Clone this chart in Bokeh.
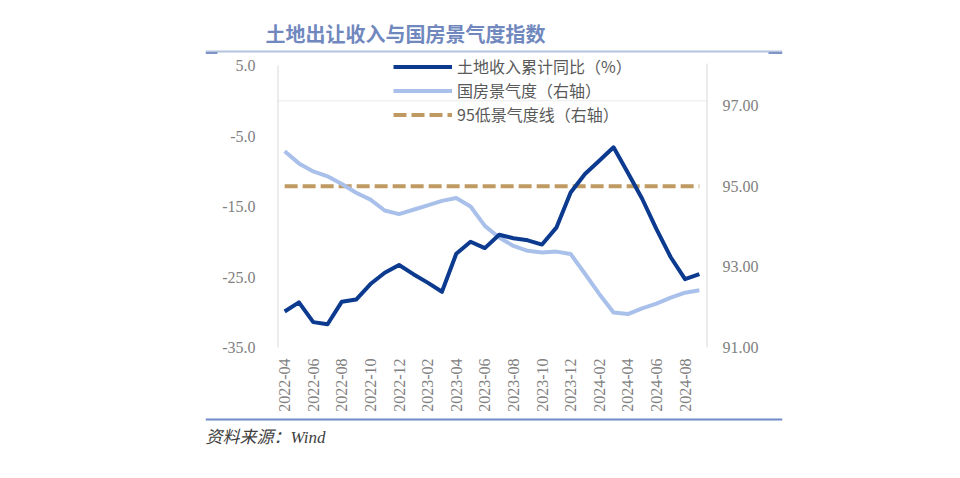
from bokeh.plotting import figure
from bokeh.models import (Range1d, LinearAxis, FixedTicker, PrintfTickFormatter,
                          Legend, LegendItem, Label, BoxAnnotation)
from bokeh.embed import file_html
from bokeh.resources import INLINE
from math import pi

months = ["2022-04", "2022-05", "2022-06", "2022-07", "2022-08", "2022-09", "2022-10",
          "2022-11", "2022-12", "2023-01", "2023-02", "2023-03", "2023-04", "2023-05",
          "2023-06", "2023-07", "2023-08", "2023-09", "2023-10", "2023-11", "2023-12",
          "2024-01", "2024-02", "2024-03", "2024-04", "2024-05", "2024-06", "2024-07",
          "2024-08", "2024-09"]

land_yoy = [-29.9, -28.6, -31.4, -31.7, -28.5, -28.2, -26.0, -24.4, -23.3, -24.6,
            -25.8, -27.1, -21.7, -20.0, -20.9, -19.0, -19.5, -19.8, -20.4, -18.0,
            -13.0, -10.4, -8.5, -6.6, -10.2, -13.9, -18.2, -22.2, -25.3, -24.6]

climate = [95.87, 95.57, 95.37, 95.25, 95.06, 94.84, 94.67, 94.40, 94.31, 94.42,
           94.53, 94.64, 94.71, 94.50, 94.02, 93.73, 93.52, 93.40, 93.36, 93.38,
           93.32, 92.83, 92.33, 91.87, 91.83, 91.97, 92.09, 92.24, 92.36, 92.42]

low_line = [95.0, 95.0, 95.0, 95.0, 95.0, 95.0, 95.0, 95.0, 95.0, 95.0,
            95.0, 95.0, 95.0, 95.0, 95.0, 95.0, 95.0, 95.0, 95.0, 95.0,
            95.0, 95.0, 95.0, 95.0, 95.0, 95.0, 95.0, 95.0, 95.0, 95.0]

left_ticks = [-35, -25, -15, -5, 5]
right_ticks = [91, 93, 95, 97]
left_min, left_max = -35, 5
right_min, right_max = 91, 98

title_text = "土地出让收入与国房景气度指数"
source_text = "资料来源：Wind"
legend_labels = ["土地收入累计同比（%）", "国房景气度（右轴）", "95低景气度线（右轴）"]

DARK = "#0B3A8F"
LIGHT = "#A9C1EA"
TAN = "#BF9B63"
TICK_FONT = "Liberation Serif"
CJK = "Noto Sans CJK SC"

# Outer frame spans the whole panel (rules, title and source are drawn inside it);
# the plotting area proper is 429 x 282 px, starting 72 px right / 47 px below its corner.
FW, FH = 577, 432
PL, PT, PW, PH = 72, 47, 429, 282
n = len(months)
xs = list(range(n))
unit_x = PW / n
x_start = -0.5 - PL / unit_x
x_end = (n - 0.5) + (FW - PL - PW) / unit_x
ly = PH / (left_max - left_min)
ry = PH / (right_max - right_min)
bottom_extra = FH - PT - PH

p = figure(x_range=Range1d(x_start, x_end),
           y_range=Range1d(left_min - bottom_extra / ly, left_max + PT / ly),
           frame_width=FW, frame_height=FH,
           min_border_left=205, min_border_right=162, min_border_top=18, min_border_bottom=12,
           output_backend="svg", toolbar_location=None, outline_line_color=None,
           background_fill_color="white", border_fill_color="white")
p.extra_y_ranges = {"right": Range1d(right_min - bottom_extra / ry, right_max + PT / ry)}

p.xgrid.visible = False
p.ygrid.visible = False


def style_axis(ax, standoff):
    ax.axis_line_color = None
    ax.major_tick_line_color = None
    ax.minor_tick_line_color = None
    ax.major_tick_in = 0
    ax.major_tick_out = 0
    ax.minor_tick_in = 0
    ax.minor_tick_out = 0
    ax.major_label_text_font = TICK_FONT
    ax.major_label_text_font_size = "16px"
    ax.major_label_text_color = "#808080"
    ax.major_label_standoff = standoff


ya = p.yaxis[0]
ya.ticker = FixedTicker(ticks=left_ticks)
ya.formatter = PrintfTickFormatter(format="%.1f")
style_axis(ya, -50)

ra = LinearAxis(y_range_name="right", ticker=FixedTicker(ticks=right_ticks),
                formatter=PrintfTickFormatter(format="%.2f"))
style_axis(ra, -60)
p.add_layout(ra, "right")

xa = p.xaxis[0]
xa.ticker = FixedTicker(ticks=xs[::2])
xa.major_label_overrides = {i: months[i] for i in xs[::2]}
xa.major_label_orientation = pi / 2
style_axis(xa, -(FH - PT - PH - 11))

# axis lines and zero line of the plotting area
p.add_layout(BoxAnnotation(left=PL, right=PL + 1, left_units="screen", right_units="screen",
                           bottom=left_min, top=left_max, fill_color="#D9D9D9",
                           fill_alpha=1, line_color=None))
p.add_layout(BoxAnnotation(left=PL + PW, right=PL + PW + 1, left_units="screen",
                           right_units="screen", bottom=left_min, top=left_max + 0.3,
                           fill_color="#D9D9D9", fill_alpha=1, line_color=None))
p.add_layout(BoxAnnotation(left=PL, right=PL + PW, left_units="screen", right_units="screen",
                           bottom=0, top=0, fill_alpha=0, line_color="#D9D9D9", line_width=1))

r_low = p.line(xs, low_line, y_range_name="right", line_color=TAN, line_width=4,
               line_dash="13 5")
r_light = p.line(xs, climate, y_range_name="right", line_color=LIGHT, line_width=4,
                 line_join="round")
r_dark = p.line(xs, land_yoy, line_color=DARK, line_width=4, line_join="round")

legend = Legend(items=[LegendItem(label=legend_labels[0], renderers=[r_dark]),
                       LegendItem(label=legend_labels[1], renderers=[r_light]),
                       LegendItem(label=legend_labels[2], renderers=[r_low])],
                location=(188, 324), orientation="vertical",
                background_fill_alpha=0, border_line_color=None,
                padding=0, margin=0, spacing=0, label_height=21, glyph_height=21,
                glyph_width=59, label_standoff=5,
                label_text_font=CJK, label_text_font_size="16px", label_text_color="#595959")
p.add_layout(legend)

# title, rules and source
p.add_layout(Label(x=60, y=FH - 15, x_units="screen", y_units="screen", text=title_text,
                   text_font=CJK, text_font_size="20px", text_font_style="bold",
                   text_color="#7088BE", text_baseline="middle", text_align="left"))
p.add_layout(BoxAnnotation(left=0, right=FW, bottom=FH - 34, top=FH - 32,
                           left_units="screen", right_units="screen",
                           bottom_units="screen", top_units="screen",
                           fill_color="#B4C3E0", fill_alpha=1, line_color=None))
p.add_layout(BoxAnnotation(left=0, right=12, bottom=FH - 35.5, top=FH - 33.5,
                           left_units="screen", right_units="screen",
                           bottom_units="screen", top_units="screen",
                           fill_color="#7F95C5", fill_alpha=1, line_color=None))
p.add_layout(BoxAnnotation(left=FW - 14, right=FW, bottom=FH - 35.5, top=FH - 33.5,
                           left_units="screen", right_units="screen",
                           bottom_units="screen", top_units="screen",
                           fill_color="#7F95C5", fill_alpha=1, line_color=None))
p.add_layout(BoxAnnotation(left=0, right=FW, bottom=30, top=32,
                           left_units="screen", right_units="screen",
                           bottom_units="screen", top_units="screen",
                           fill_color="#6F8BC8", fill_alpha=1, line_color=None))
p.add_layout(Label(x=0, y=13, x_units="screen", y_units="screen", text=source_text,
                   text_font="Liberation Serif, Noto Sans CJK SC", text_font_size="17px",
                   text_font_style="italic", text_color="#404040",
                   text_baseline="middle", text_align="left"))

open("out.html", "w").write(file_html(p, INLINE))
